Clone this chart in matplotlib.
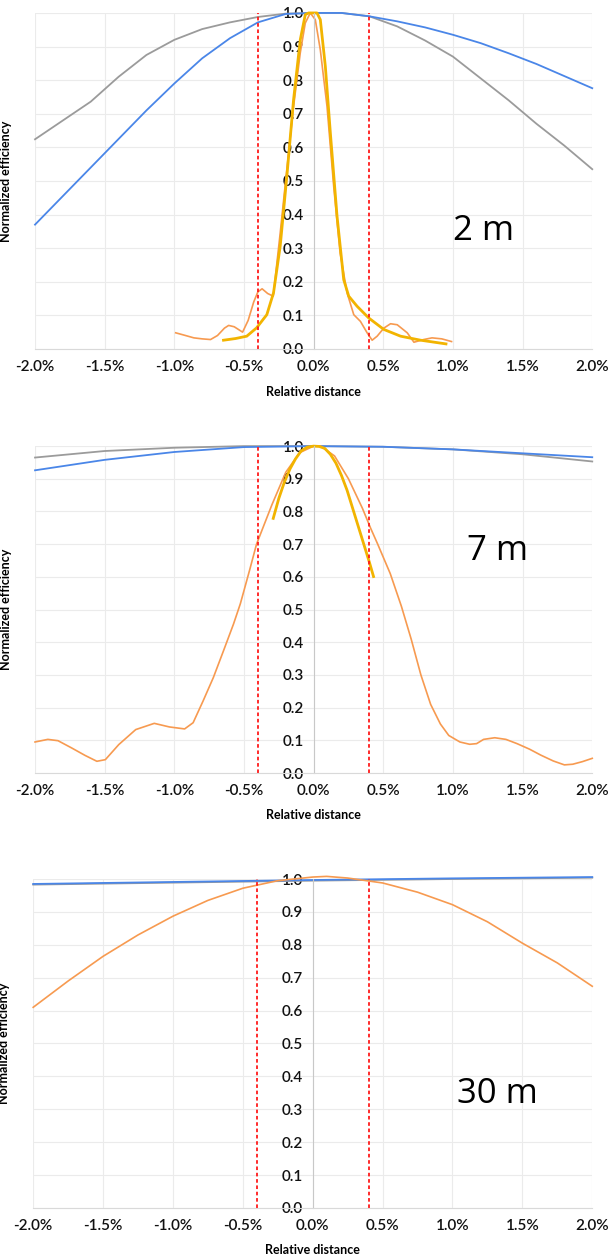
import matplotlib
matplotlib.use("Agg")
import matplotlib.pyplot as plt
import matplotlib.ticker as ticker

plt.rcParams['font.family'] = ['Lato', 'DejaVu Sans']

# ---- 2 m ----
x2_gray = [-2.0, -1.8, -1.6, -1.4, -1.2, -1.0, -0.8, -0.6, -0.4, -0.2, 0.0, 0.2,
           0.4, 0.6, 0.8, 1.0, 1.2, 1.4, 1.6, 1.8, 2.0]
y2_gray = [0.624, 0.68, 0.736, 0.81, 0.875, 0.92, 0.952, 0.972, 0.988, 0.998, 1.0, 1.0,
           0.99, 0.96, 0.918, 0.87, 0.805, 0.74, 0.67, 0.605, 0.535]
x2_blue = [-2.0, -1.8, -1.6, -1.4, -1.2, -1.0, -0.8, -0.6, -0.4, -0.2, 0.0, 0.2,
           0.4, 0.6, 0.8, 1.0, 1.2, 1.4, 1.6, 1.8, 2.0]
y2_blue = [0.37, 0.455, 0.54, 0.625, 0.71, 0.79, 0.865, 0.925, 0.972, 0.997, 1.0, 1.0,
           0.99, 0.975, 0.957, 0.935, 0.91, 0.88, 0.848, 0.812, 0.776]
x2_orange = [-0.99, -0.92, -0.86, -0.80, -0.74, -0.69, -0.64, -0.61, -0.57, -0.54, -0.51,
             -0.47, -0.43, -0.40, -0.37, -0.33, -0.29, -0.24, -0.19, -0.144, -0.096, -0.06,
             -0.024, 0.012, 0.048, 0.096, 0.144, 0.19, 0.24, 0.288, 0.336, 0.384, 0.42,
             0.456, 0.504, 0.552, 0.60, 0.672, 0.72, 0.79, 0.85, 0.92, 0.99]
y2_orange = [0.048, 0.040, 0.033, 0.030, 0.028, 0.040, 0.062, 0.070, 0.066, 0.058, 0.050,
             0.085, 0.14, 0.17, 0.179, 0.165, 0.157, 0.345, 0.544, 0.722, 0.881, 0.97,
             1.0, 0.98, 0.89, 0.722, 0.484, 0.286, 0.167, 0.102, 0.082, 0.048, 0.026,
             0.038, 0.062, 0.075, 0.072, 0.048, 0.02, 0.028, 0.033, 0.030, 0.022]
x2_yellow = [-0.647, -0.56, -0.48, -0.41, -0.336, -0.288, -0.24, -0.19, -0.144, -0.096,
             -0.06, -0.036, 0.024, 0.048, 0.084, 0.12, 0.168, 0.216, 0.252, 0.312, 0.396,
             0.504, 0.624, 0.768, 0.95]
y2_yellow = [0.026, 0.031, 0.038, 0.0625, 0.102, 0.167, 0.306, 0.524, 0.742, 0.92,
             0.995, 1.0, 1.0, 0.98, 0.841, 0.643, 0.395, 0.206, 0.157, 0.127, 0.092,
             0.058, 0.038, 0.026, 0.015]

# ---- 7 m ----
x7_gray = [-2.0, -1.5, -1.0, -0.5, 0.0, 0.5, 1.0, 1.5, 2.0]
y7_gray = [0.965, 0.985, 0.995, 1.0, 1.0, 0.998, 0.99, 0.975, 0.953]
x7_blue = [-2.0, -1.5, -1.0, -0.5, 0.0, 0.5, 1.0, 1.5, 2.0]
y7_blue = [0.926, 0.958, 0.982, 0.997, 1.0, 0.998, 0.99, 0.978, 0.966]
x7_orange = [-2.0, -1.908, -1.835, -1.738, -1.641, -1.556, -1.495, -1.399, -1.277, -1.144,
             -1.035, -0.926, -0.865, -0.793, -0.72, -0.647, -0.575, -0.526, -0.46, -0.41,
             -0.3, -0.2, -0.1, 0.0, 0.05, 0.15, 0.25, 0.35, 0.41, 0.46, 0.55, 0.63, 0.70,
             0.77, 0.84, 0.91, 0.97, 1.05, 1.12, 1.17, 1.22, 1.30, 1.38, 1.46, 1.55, 1.63,
             1.72, 1.80, 1.86, 1.93, 2.0]
y7_orange = [0.095, 0.103, 0.099, 0.077, 0.054, 0.036, 0.041, 0.087, 0.133, 0.152,
             0.141, 0.135, 0.154, 0.221, 0.292, 0.374, 0.456, 0.518, 0.62, 0.70,
             0.82, 0.92, 0.98, 1.0, 1.0, 0.97, 0.90, 0.81, 0.748, 0.70, 0.61, 0.51, 0.41,
             0.30, 0.21, 0.15, 0.115, 0.095, 0.088, 0.09, 0.103, 0.108, 0.103, 0.09, 0.073, 0.055,
             0.037, 0.025, 0.027, 0.035, 0.045]
x7_yellow = [-0.29, -0.25, -0.21, -0.17, -0.13, -0.09, -0.045, 0.0, 0.04, 0.08, 0.12, 0.16,
             0.20, 0.24, 0.28, 0.32, 0.36, 0.40, 0.43]
y7_yellow = [0.779, 0.84, 0.89, 0.93, 0.961, 0.985, 0.997, 1.0, 0.999, 0.993, 0.975, 0.948,
             0.91, 0.865, 0.81, 0.755, 0.70, 0.645, 0.601]

# ---- 30 m ----
x30_gray = [-2.0, -1.0, 0.0, 1.0, 2.0]
y30_gray = [0.983, 0.989, 0.995, 1.0, 1.004]
x30_blue = [-2.0, -1.0, 0.0, 1.0, 2.0]
y30_blue = [0.985, 0.991, 0.997, 1.002, 1.006]
x30_orange = [-2.0, -1.75, -1.5, -1.25, -1.0, -0.75, -0.5, -0.25, 0.0, 0.1, 0.25, 0.5,
              0.75, 1.0, 1.25, 1.5, 1.75, 2.0]
y30_orange = [0.61, 0.69, 0.765, 0.83, 0.887, 0.935, 0.972, 0.995, 1.006, 1.008, 1.003, 0.988,
              0.96, 0.922, 0.87, 0.805, 0.745, 0.674]

panels = [
    ("2 m", (1.22, 0.35), [0.0575, 0.7224, 0.915, 0.2673],
     (x2_gray, y2_gray), (x2_blue, y2_blue), (x2_orange, y2_orange), (x2_yellow, y2_yellow)),
    ("7 m", (1.32, 0.68), [0.0575, 0.3850, 0.915, 0.2601],
     (x7_gray, y7_gray), (x7_blue, y7_blue), (x7_orange, y7_orange), (x7_yellow, y7_yellow)),
    ("30 m", (1.32, 0.345), [0.0545, 0.0390, 0.918, 0.2617],
     (x30_gray, y30_gray), (x30_blue, y30_blue), (x30_orange, y30_orange), None),
]

c_gray = '#9b9b9b'
c_blue = '#4a86e8'
c_orange = '#f79a50'
c_yellow = '#f2b400'

fig = plt.figure(figsize=(6.09, 12.57), dpi=100)

for label, txt_pos, rect, gray, blue, orange, yellow in panels:
    ax = fig.add_axes(rect)
    ax.set_xlim(-2.0, 2.0)
    ax.set_ylim(0.0, 1.0)
    ax.xaxis.set_major_locator(ticker.MultipleLocator(0.5))
    ax.yaxis.set_major_locator(ticker.MultipleLocator(0.1))
    ax.xaxis.set_major_formatter(ticker.FormatStrFormatter('%.1f%%'))
    ax.yaxis.set_major_formatter(ticker.FormatStrFormatter('%.1f'))
    ax.grid(color='#ebebeb', linewidth=0.8)
    ax.set_axisbelow(True)
    for s in ['top', 'right']:
        ax.spines[s].set_visible(False)
    ax.spines['left'].set_position(('data', 0))
    ax.spines['left'].set_color('#c8c8c8')
    ax.spines['bottom'].set_color('#d9d9d9')
    ax.tick_params(length=0, labelsize=11, colors='#111111')
    ax.tick_params(axis='x', pad=8)
    ax.tick_params(axis='y', pad=7)
    for t in ax.get_xticklabels() + ax.get_yticklabels():
        t.set_fontweight('semibold')

    ax.plot(*gray, color=c_gray, lw=1.3, clip_on=False)
    ax.plot(*blue, color=c_blue, lw=1.3, clip_on=False)
    ax.plot(*orange, color=c_orange, lw=1.2, clip_on=False)
    if yellow is not None:
        ax.plot(*yellow, color=c_yellow, lw=2.0, clip_on=False)

    for xv in (-0.4, 0.4):
        ax.axvline(xv, color='#ff1a1a', lw=1.3, linestyle=(0, (2, 1.5)))

    ax.text(txt_pos[0], txt_pos[1], label, fontsize=25, ha='center', va='center',
            family=['Open Sans', 'DejaVu Sans'])
    ax.set_xlabel('Relative distance', fontsize=9, fontweight='bold')
    ax.set_ylabel('Normalized efficiency', fontsize=9, fontweight='bold')
    ax.xaxis.set_label_coords(0.5, -0.11)
    ax.yaxis.set_label_coords(-0.041, 0.5)

fig.savefig('out.png', dpi=100)
